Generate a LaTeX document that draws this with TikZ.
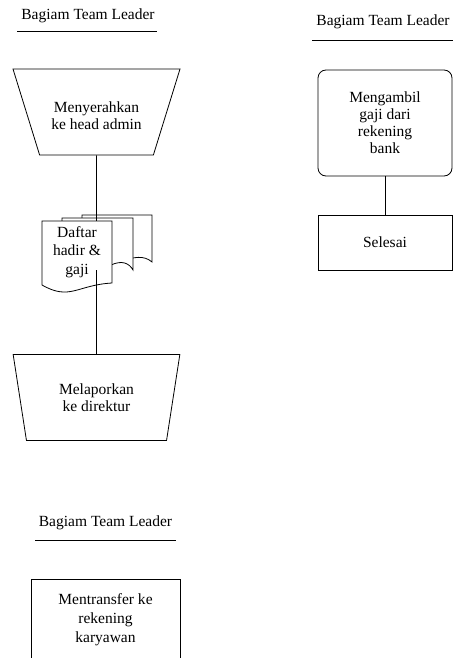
\documentclass[tikz,border=0pt]{standalone}
\usepackage{fontspec}
\setmainfont{Liberation Serif}
\usetikzlibrary{shapes.geometric}

\tikzset{
  judul/.style={font=\fontsize{15.5}{17}\selectfont},
  teks/.style={align=center, font=\fontsize{15.5}{17}\selectfont},
  proses/.style={draw, line width=0.8pt, teks},
  manual/.style={proses, trapezium, shape border rotate=180, trapezium stretches=true,
    trapezium left angle=75.7, trapezium right angle=75.7,
    minimum width=167pt, minimum height=86pt, inner sep=0pt},
  lembar/.style={draw, line width=0.8pt, fill=white},
  garis/.style={line width=0.8pt},
}

\begin{document}
\begin{tikzpicture}[x=1pt,y=-1pt]
\useasboundingbox (0,0) rectangle (453,658);
%Kolom kiri
\node[judul] (h1) at (88,16) {Bagiam Team Leader};
\draw[garis] (17,31) -- (157,31);
\node[manual, label={[teks, yshift=-4pt]center:{Menyerahkan\\ke head admin}}] (t1) at (96.5,112) {\phantom{x}};
\node[manual] (t2) at (96.5,397.5) {Melaporkan\\ke direktur};
%Dokumen
\draw[lembar, shift={(82,215)}] (0,0) -- (70,0) -- (70,47) .. controls (62,40) and (52,42) .. (40,46) -- (0,46) -- cycle;
\draw[lembar, shift={(62,218)}] (0,0) -- (71,0) -- (71,52) .. controls (67,45) and (60,42) .. (49,47) -- (0,47) -- cycle;
\coordinate (doktop) at (96.5,221);
\coordinate (dokbot) at (96.5,270);
\draw[garis] (t1.south) -- (doktop);
\draw[lembar, shift={(42,221)}] (0,0) -- (70,0) -- (70,62) .. controls (35,64) and (28,80) .. (0,64) -- cycle;
\node[align=center, font=\fontsize{15.5}{18.5}\selectfont] (dok) at (77,252) {Daftar\\hadir \&\\gaji};
\draw[garis] (dokbot) -- (t2.north);
%Kolom kanan
\node[judul] (h2) at (383,22) {Bagiam Team Leader};
\draw[garis] (312,40) -- (453,40);
\node[proses, rounded corners=8pt, minimum width=134pt, minimum height=106pt] (ambil) at (385,123) {Mengambil\\gaji dari\\rekening\\bank};
\node[proses, minimum width=134pt, minimum height=55pt] (selesai) at (385,242.5) {Selesai};
\draw[garis] (ambil.south) -- (selesai.north);
%Bawah
\node[judul] (h3) at (105.5,523) {Bagiam Team Leader};
\draw[garis] (35,540) -- (176,540);
\draw[garis] (31,658) -- (31,579) -- (180,579) -- (180,658);
\node[align=center, font=\fontsize{15.5}{19}\selectfont] (transfer) at (105.5,620) {Mentransfer ke\\rekening\\karyawan};
\end{tikzpicture}
\end{document}
